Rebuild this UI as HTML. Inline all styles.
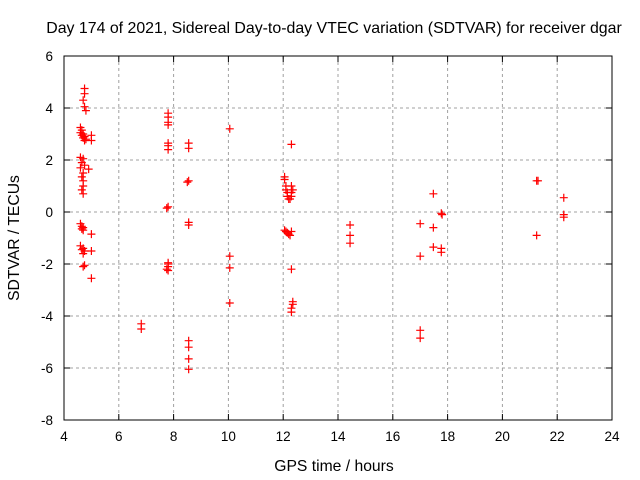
<!DOCTYPE html>
<html><head><meta charset="utf-8"><style>
body{margin:0;background:#fff}
svg{display:block;font-family:"Liberation Sans",sans-serif}
</style></head><body>
<svg id="chart" width="640" height="480">
<text x="334" y="33" font-size="15.9" text-anchor="middle">Day 174 of 2021, Sidereal Day-to-day VTEC variation (SDTVAR) for receiver dgar</text>
<text x="334" y="471" font-size="15.7" text-anchor="middle">GPS time / hours</text>
<text transform="translate(19,238) rotate(-90)" font-size="15.7" text-anchor="middle">SDTVAR / TECUs</text>
<g id="grid"></g><g id="ticks"></g><g id="pts"></g>
<rect x="64" y="56" width="548" height="364" fill="none" stroke="#000" stroke-width="1"/>
</svg>
<script>
const xTicks=[4,6,8,10,12,14,16,18,20,22,24];
const yTicks=[6,4,2,0,-2,-4,-6,-8];
const xs=[4.75,4.75,4.7,4.75,4.8,
4.6,4.65,4.6,4.7,4.65,4.75,4.7,4.8,4.75,5.0,5.0,
4.6,4.7,4.65,4.75,4.6,4.7,4.65,4.7,4.7,4.65,4.7,4.9,
4.6,4.65,4.7,4.65,4.7,5.0,
4.6,4.7,4.65,4.75,4.7,5.0,
4.75,4.7,5.0,
7.8,7.8,7.8,7.8,7.8,7.8,7.8,8.55,8.55,8.55,8.5,7.8,7.75,8.55,8.55,7.8,7.8,7.8,7.75,7.8,8.55,8.55,8.55,8.55,6.82,6.82,
10.05,10.05,10.05,10.05,
12.05,12.05,12.1,12.1,12.15,12.15,12.2,12.3,12.3,12.3,12.25,12.35,
12.3,12.05,12.1,12.15,12.2,12.25,12.3,
12.3,12.35,12.35,12.3,12.3,
14.44,14.44,14.44,
17.0,17.0,17.0,17.0,17.48,17.48,17.48,17.77,17.8,17.77,17.77,
21.25,21.3,21.25,22.24,22.24,22.24];
const ys=[4.75,4.55,4.3,4.05,3.9,
3.25,3.15,3.05,3.0,2.95,2.9,2.85,2.8,2.75,2.95,2.75,
2.1,2.05,1.9,1.8,1.7,1.5,1.35,1.2,1.0,0.85,0.7,1.65,
-0.45,-0.55,-0.6,-0.65,-0.7,-0.85,
-1.3,-1.4,-1.45,-1.5,-1.6,-1.5,
-2.05,-2.1,-2.55,
3.8,3.65,3.45,3.35,2.65,2.55,2.4,2.65,2.45,1.2,1.15,0.2,0.15,-0.4,-0.5,-1.95,-2.0,-2.1,-2.2,-2.25,-4.95,-5.2,-5.65,-6.05,-4.3,-4.5,
3.2,-1.7,-2.15,-3.5,
1.35,1.25,1.0,0.85,0.75,0.6,0.5,1.0,0.75,0.6,0.5,0.85,
2.6,-0.7,-0.75,-0.8,-0.85,-0.9,-0.75,
-2.2,-3.45,-3.55,-3.7,-3.85,
-0.5,-0.9,-1.2,
-0.45,-1.7,-4.55,-4.85,0.7,-0.6,-1.35,-0.05,-0.1,-1.4,-1.55,
1.2,1.2,-0.9,0.55,-0.1,-0.2];
const X=v=>64+(v-4)*27.4, Y=v=>212-v*26;
const NS='http://www.w3.org/2000/svg';
function mk(t,a,p){const e=document.createElementNS(NS,t);for(const k in a)e.setAttribute(k,a[k]);p.appendChild(e);return e;}
const g=document.getElementById('grid'),tk=document.getElementById('ticks'),pts=document.getElementById('pts');
xTicks.forEach(v=>{const x=X(v);
 if(v>4&&v<24){const l=mk('line',{x1:x,x2:x,y1:56,y2:420,stroke:'#a0a0a0','stroke-dasharray':'3,3'},g);
 
 }
 mk('line',{x1:x,x2:x,y1:420,y2:414,stroke:'#000'},tk);mk('line',{x1:x,x2:x,y1:56,y2:62,stroke:'#000'},tk);
 const t=mk('text',{x:x,y:441,'font-size':13.5,'text-anchor':'middle'},tk);t.textContent=v;
 
 });
yTicks.forEach(v=>{const y=Y(v);
 if(v<6&&v>-8){const l=mk('line',{x1:64,x2:612,y1:y,y2:y,stroke:'#a0a0a0','stroke-dasharray':'3,3'},g);
 
 }
 mk('line',{x1:64,x2:70,y1:y,y2:y,stroke:'#000'},tk);mk('line',{x1:612,x2:606,y1:y,y2:y,stroke:'#000'},tk);
 const t=mk('text',{x:53,y:y+5,'font-size':13.5,'text-anchor':'end'},tk);t.textContent=v;
 
 });
xs.forEach((v,i)=>{const x=X(v),y=Y(ys[i]);
 const p=mk('path',{d:`M${x-4},${y}h8M${x},${y-4}v8`,stroke:'#f00','stroke-width':1.2},pts);
 
 });
</script>
</body></html>
